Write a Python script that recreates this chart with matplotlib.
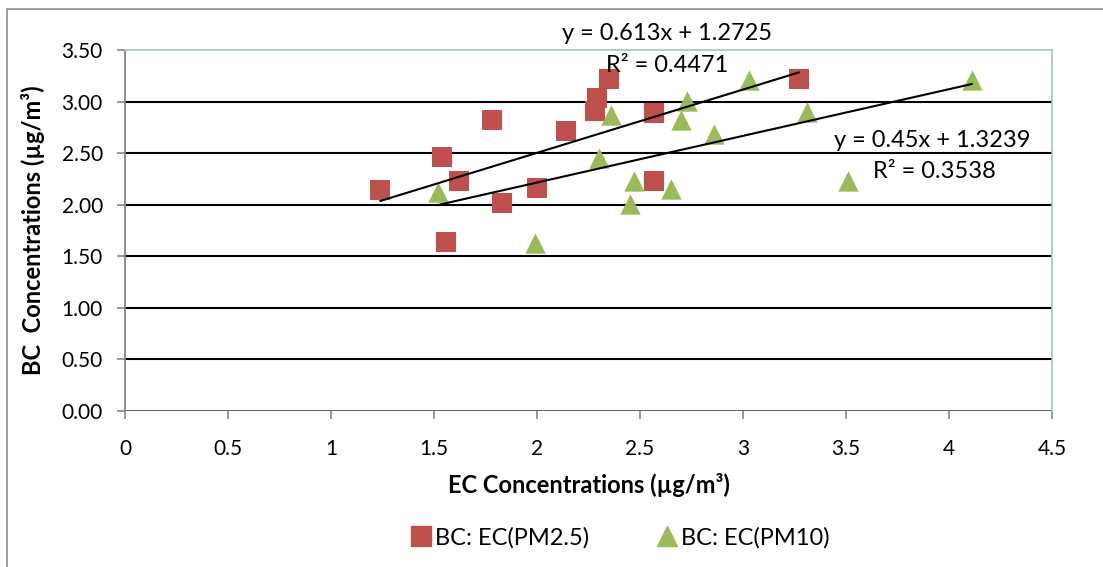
import numpy as np
import matplotlib
matplotlib.use('Agg')
import matplotlib.pyplot as plt
from matplotlib.patches import Rectangle
from matplotlib.lines import Line2D

plt.rcParams['font.family'] = ['Lato', 'DejaVu Sans']

# BC vs EC values
ec_pm25 = [1.24, 1.54, 1.62, 1.56, 1.78, 1.83, 2.00, 2.14, 2.28, 2.29, 2.35, 2.57, 2.57, 3.27]
bc_pm25 = [2.14, 2.46, 2.23, 1.64, 2.82, 2.02, 2.16, 2.71, 2.91, 3.03, 3.22, 2.89, 2.23, 3.22]
ec_pm10 = [1.52, 1.99, 2.30, 2.36, 2.45, 2.47, 2.65, 2.70, 2.73, 2.86, 3.03, 3.31, 3.51, 4.11]
bc_pm10 = [2.12, 1.63, 2.45, 2.87, 2.01, 2.23, 2.15, 2.82, 3.01, 2.69, 3.21, 2.90, 2.23, 3.21]

red = '#C0504D'
green = '#9BBB59'

fig = plt.figure(figsize=(11.03, 5.67), dpi=100)
ax = fig.add_axes([125 / 1103, 1 - 411 / 567, (1052 - 125) / 1103, (411 - 50) / 567])

# outer chart frame
fig.patches.append(Rectangle((7 / 1103, -0.01), 1.0, 1 - 9 / 567 + 0.01, transform=fig.transFigure,
                             fill=False, edgecolor='#8c8c8c', linewidth=1.2))

# horizontal gridlines
for yv in np.arange(0.5, 3.01, 0.5):
    ax.axhline(yv, color='black', linewidth=1.5, zorder=1)
ax.axhline(0, color='#555555', linewidth=1.3, zorder=1)

# data
ax.scatter(ec_pm25, bc_pm25, marker='s', s=215, color=red, zorder=3, linewidths=0)
ax.scatter(ec_pm10, bc_pm10, marker='^', s=215, color=green, zorder=3, linewidths=0)

# linear trendlines
for xs, ys in [(ec_pm25, bc_pm25), (ec_pm10, bc_pm10)]:
    m, b = np.polyfit(xs, ys, 1)
    xx = np.array([min(xs), max(xs)])
    ax.plot(xx, m * xx + b, color='black', linewidth=1.5, zorder=4)

ax.text(2.63, 3.66, 'y = 0.613x + 1.2725', fontsize=17, ha='center', va='center', clip_on=False)
ax.text(2.63, 3.35, 'R² = 0.4471', fontsize=17, ha='center', va='center')
ax.text(3.92, 2.62, 'y = 0.45x + 1.3239', fontsize=17, ha='center', va='center')
ax.text(3.93, 2.32, 'R² = 0.3538', fontsize=17, ha='center', va='center')

ax.set_xlim(0, 4.5)
ax.set_ylim(0, 3.5)
ax.set_xticks(np.arange(0, 4.51, 0.5))
ax.set_xticklabels(['0', '0.5', '1', '1.5', '2', '2.5', '3', '3.5', '4', '4.5'])
ax.set_yticks(np.arange(0, 3.51, 0.5))
ax.set_yticklabels(['%.2f' % v for v in np.arange(0, 3.51, 0.5)])
ax.tick_params(axis='both', labelsize=15, color='#868686', length=6, width=1.2)
ax.tick_params(axis='x', pad=14)
ax.tick_params(axis='y', pad=10)

for s in ['top', 'right']:
    ax.spines[s].set_color('#a7bfe0')
    ax.spines[s].set_linewidth(1.2)
ax.spines['left'].set_color('#868686')
ax.spines['left'].set_linewidth(1.3)
ax.spines['bottom'].set_visible(False)

ax.set_xlabel('EC Concentrations (µg/m³)', fontsize=17, fontweight='bold', labelpad=10)
ax.set_ylabel('BC  Concentrations (µg/m³)', fontsize=17, fontweight='bold', labelpad=12)

handles = [Line2D([], [], marker='s', color=red, linestyle='', markersize=14),
           Line2D([], [], marker='^', color=green, linestyle='', markersize=15)]
fig.legend(handles, ['BC: EC(PM2.5)', 'BC: EC(PM10)'], loc='center', bbox_to_anchor=(618 / 1103, 1 - 538 / 567),
           ncol=2, frameon=False, fontsize=17, handletextpad=0.0, columnspacing=2.7, handlelength=1.2)

fig.savefig('out.png', dpi=100)
